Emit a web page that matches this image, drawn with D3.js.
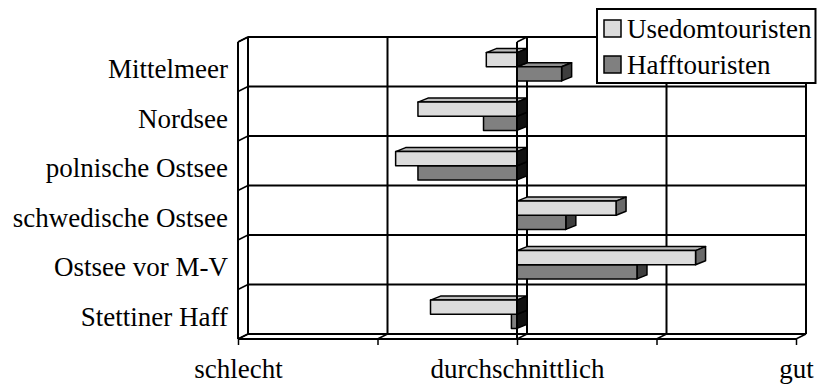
<!DOCTYPE html>
<html>
<head>
<meta charset="utf-8">
<script src="https://cdn.jsdelivr.net/npm/d3@7"></script>
<style>
  html, body { margin: 0; padding: 0; background: #fff; }
  svg { display: block; }
  svg text { font-family: "Liberation Serif", "Tinos", "Times New Roman", "DejaVu Serif", serif !important; fill: #000; }
</style>
</head>
<body>
<svg id="chart" width="817" height="388"></svg>
<script>
// ---- data ----
const categories = ["Mittelmeer", "Nordsee", "polnische Ostsee", "schwedische Ostsee", "Ostsee vor M-V", "Stettiner Haff"];
const seriesNames = ["Usedomtouristen", "Hafftouristen"];
const usedomValues = [2.78, 2.29, 2.13, 3.71, 4.28, 2.38];
const haffValues   = [3.32, 2.76, 2.29, 3.35, 3.86, 2.96];
const tickValues = [1, 2, 3, 4, 5];
const tickLabels = ["schlecht", "", "durchschnittlich", "", "gut"];
const baseValue = 3;

// ---- layout ----
const svg = d3.select("#chart");
const DX = 10, DY = -5;       // wall depth
const BDX = 10, BDY = -4;     // bar depth
const fontSize = 27;
const serif = '"Liberation Serif", "Tinos", "Times New Roman", "DejaVu Serif", serif';

const x = d3.scaleLinear().domain([1, 5]).range([238, 796]);
const y = d3.scaleBand().domain(categories).range([42, 339]).paddingInner(0).paddingOuter(0);
const ySub = d3.scaleBand().domain(seriesNames).range([0, y.bandwidth()]).paddingInner(0).paddingOuter(0.75);

const colors = {
  "Usedomtouristen": { front: "#dcdcdc", top: "#bdbdbd", side: "#6a6a6a", sideZero: "#111" },
  "Hafftouristen":   { front: "#808080", top: "#8e8e8e", side: "#3e3e3e", sideZero: "#111" }
};

const x0 = x.range()[0], x1 = x.range()[1];
const yTop = y.range()[0], yBot = y.range()[1];

const grid = svg.append("g").attr("stroke", "#000").attr("fill", "none");

const boundaries = categories.map(c => y(c)).concat([yBot]);
grid.selectAll("line.h").data(boundaries.slice(0, -1)).join("line")
  .attr("x1", x0 + DX).attr("x2", x1 + DX)
  .attr("y1", d => d + DY).attr("y2", d => d + DY)
  .attr("stroke-width", 2);
grid.selectAll("line.ld").data(boundaries).join("line")
  .attr("x1", x0).attr("y1", d => d).attr("x2", x0 + DX).attr("y2", d => d + DY)
  .attr("stroke-width", 1.5);
grid.selectAll("line.v").data(tickValues).join("line")
  .attr("x1", d => x(d) + DX).attr("x2", d => x(d) + DX)
  .attr("y1", yTop + DY).attr("y2", yBot + DY)
  .attr("stroke-width", 2);
grid.append("line").attr("x1", x0).attr("x2", x0).attr("y1", yTop).attr("y2", yBot).attr("stroke-width", 2);
grid.append("line").attr("x1", x0 + DX).attr("x2", x1 + DX).attr("y1", yBot + DY).attr("y2", yBot + DY).attr("stroke-width", 2.2);
grid.append("line").attr("x1", x0).attr("x2", x1).attr("y1", yBot).attr("y2", yBot).attr("stroke-width", 2.2);
grid.selectAll("line.fd").data(tickValues).join("line")
  .attr("x1", d => x(d)).attr("y1", yBot).attr("x2", d => x(d) + DX).attr("y2", yBot + DY)
  .attr("stroke-width", 1.5);

const xAxis = d3.axisBottom(x).tickValues(tickValues).tickSize(6).tickFormat((d, i) => tickLabels[i]);
const axG = svg.append("g").attr("transform", `translate(0,${yBot})`).call(xAxis)
  .attr("font-family", serif).attr("font-size", fontSize);
axG.select(".domain").remove();
axG.selectAll(".tick line").attr("stroke", "#000").attr("stroke-width", 1.5);
axG.selectAll(".tick text")
  .attr("y", 39).attr("dy", 0)
  .attr("fill", "#000");

const yAxis = d3.axisLeft(y).tickSize(0).tickPadding(0);
const ayG = svg.append("g").attr("transform", `translate(228,0)`).call(yAxis)
  .attr("font-family", serif).attr("font-size", fontSize);
ayG.select(".domain").remove();
ayG.selectAll(".tick text")
  .attr("x", 0).attr("dy", 11.5)
  .attr("fill", "#000");

// ---- bars ----
const barData = [];
categories.forEach((c, i) => {
  barData.push({ cat: c, series: "Hafftouristen", value: haffValues[i] });
  barData.push({ cat: c, series: "Usedomtouristen", value: usedomValues[i] });
});

const bars = svg.append("g").attr("stroke", "#000").attr("stroke-width", 1.5).attr("stroke-linejoin", "round");
barData.forEach(d => {
  const xa = Math.min(x(baseValue), x(d.value));
  const xb = Math.max(x(baseValue), x(d.value));
  const y0 = y(d.cat) + ySub(d.series);
  const h = ySub.bandwidth();
  const col = colors[d.series];
  const g = bars.append("g");
  g.append("polygon")
    .attr("points", [[xa, y0], [xa + BDX, y0 + BDY], [xb + BDX, y0 + BDY], [xb, y0]].map(p => p.join(",")).join(" "))
    .attr("fill", col.top);
  g.append("polygon")
    .attr("points", [[xb, y0], [xb + BDX, y0 + BDY], [xb + BDX, y0 + h + BDY], [xb, y0 + h]].map(p => p.join(",")).join(" "))
    .attr("fill", d.value < baseValue ? col.sideZero : col.side);
  g.append("rect")
    .attr("x", xa).attr("y", y0).attr("width", xb - xa).attr("height", h)
    .attr("fill", col.front);
});

const xz = x(baseValue);
const zg = svg.append("g").attr("stroke", "#000").attr("fill", "none");
zg.append("line").attr("x1", xz).attr("x2", xz).attr("y1", yTop).attr("y2", yBot).attr("stroke-width", 2);
zg.append("line").attr("x1", xz).attr("y1", yTop).attr("x2", xz + DX).attr("y2", yTop + DY).attr("stroke-width", 1.5);
zg.append("line").attr("x1", x0).attr("y1", yTop).attr("x2", x0 + DX).attr("y2", yTop + DY).attr("stroke-width", 1.5);

// ---- legend ----
const leg = svg.append("g");
leg.append("rect").attr("x", 597).attr("y", 9).attr("width", 218.5).attr("height", 74)
  .attr("fill", "#fff").attr("stroke", "#000").attr("stroke-width", 2);
const legItems = leg.selectAll("g.item").data(seriesNames).join("g")
  .attr("transform", (d, i) => `translate(604,${20 + i * 36})`);
legItems.append("rect").attr("width", 17).attr("height", 17)
  .attr("fill", d => colors[d].front).attr("stroke", "#000").attr("stroke-width", 1.5);
legItems.append("text").attr("x", 23).attr("y", 17.5)
  .attr("font-family", serif).attr("font-size", fontSize)
  .text(d => d);
</script>
</body>
</html>
